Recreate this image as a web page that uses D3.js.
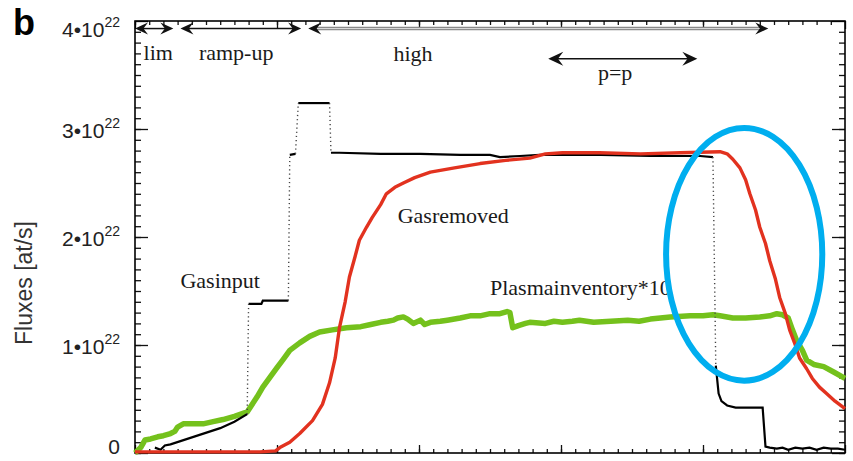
<!DOCTYPE html>
<html>
<head>
<meta charset="utf-8">
<script src="https://cdn.jsdelivr.net/npm/d3@7"></script>
<style>
  body { margin: 0; background: #fff; }
  svg { display: block; }
</style>
</head>
<body>
<div class="svg"></div>
<script>
// time in arbitrary units (0..5), fluxes in units of 1e22 at/s

var gasInputT = [0.14, 0.18, 0.21, 0.25, 0.32, 0.46, 0.60, 0.70, 0.79,
  0.80, 0.89, 0.90, 1.08, 1.09, 1.13, 1.15, 1.37, 1.38, 1.44, 1.73, 2.01,
  2.29, 2.50, 2.57, 2.71, 2.85, 2.99, 3.28, 3.63, 3.98, 4.07, 4.09, 4.10,
  4.11, 4.13, 4.17, 4.23, 4.42, 4.44, 4.47, 4.52, 4.56, 4.60, 4.65, 4.70,
  4.75, 4.80, 4.85, 4.90, 4.95, 5.00];
var gasInputV = [0.05, 0.03, 0.07, 0.08, 0.11, 0.17, 0.23, 0.29, 0.36,
  1.38, 1.38, 1.41, 1.41, 2.76, 2.77, 3.24, 3.24, 2.78, 2.78, 2.77, 2.77,
  2.76, 2.76, 2.74, 2.75, 2.76, 2.76, 2.76, 2.75, 2.75, 2.74, 0.81, 0.68,
  0.55, 0.48, 0.44, 0.42, 0.42, 0.06, 0.05, 0.04, 0.05, 0.03, 0.05, 0.04,
  0.05, 0.03, 0.05, 0.04, 0.04, 0.03];
// segment i -> i+1 is a dotted jump
var gasInputDotted = [8, 12, 14, 16, 30];

var gasRemovedT = [0.00, 0.46, 0.88, 0.99, 1.02, 1.09, 1.16, 1.25, 1.32,
  1.37, 1.41, 1.44, 1.48, 1.51, 1.55, 1.58, 1.63, 1.67, 1.73, 1.77, 1.83,
  1.89, 1.97, 2.08, 2.25, 2.43, 2.61, 2.78, 2.89, 3.01, 3.27, 3.56, 3.84,
  4.12, 4.17, 4.21, 4.26, 4.30, 4.33, 4.37, 4.40, 4.44, 4.47, 4.51, 4.54,
  4.58, 4.61, 4.65, 4.68, 4.73, 4.77, 4.82, 4.87, 4.93, 5.00];
var gasRemovedV = [0.01, 0.01, 0.01, 0.02, 0.05, 0.10, 0.18, 0.30, 0.45,
  0.65, 0.88, 1.16, 1.40, 1.63, 1.82, 1.97, 2.09, 2.18, 2.30, 2.40, 2.46,
  2.50, 2.55, 2.60, 2.64, 2.68, 2.71, 2.73, 2.77, 2.78, 2.78, 2.77, 2.78,
  2.79, 2.77, 2.72, 2.64, 2.53, 2.40, 2.25, 2.09, 1.94, 1.78, 1.61, 1.44,
  1.29, 1.14, 1.00, 0.88, 0.78, 0.69, 0.61, 0.55, 0.48, 0.41];

// plasma inventory, already multiplied by 10
var plasmaT = [0.00, 0.04, 0.07, 0.11, 0.16, 0.20, 0.25, 0.28, 0.30, 0.34,
  0.41, 0.48, 0.55, 0.62, 0.70, 0.79, 0.82, 0.86, 0.90, 0.95, 1.00, 1.04,
  1.09, 1.16, 1.23, 1.30, 1.39, 1.49, 1.59, 1.66, 1.73, 1.78, 1.82, 1.85,
  1.89, 1.92, 1.96, 2.01, 2.04, 2.08, 2.15, 2.20, 2.29, 2.36, 2.43, 2.50,
  2.57, 2.62, 2.64, 2.66, 2.70, 2.75, 2.78, 2.89, 2.95, 3.01, 3.08, 3.13,
  3.23, 3.35, 3.47, 3.55, 3.63, 3.77, 3.91, 4.00, 4.07, 4.12, 4.21, 4.30,
  4.40, 4.47, 4.52, 4.56, 4.60, 4.63, 4.66, 4.70, 4.73, 4.78, 4.85, 4.92,
  5.00];
var plasmaV = [0.00, 0.05, 0.12, 0.13, 0.15, 0.16, 0.18, 0.20, 0.24, 0.27,
  0.27, 0.27, 0.29, 0.31, 0.34, 0.38, 0.44, 0.52, 0.61, 0.70, 0.79, 0.86,
  0.95, 1.02, 1.08, 1.12, 1.14, 1.16, 1.17, 1.19, 1.21, 1.22, 1.23, 1.25,
  1.26, 1.24, 1.20, 1.23, 1.19, 1.21, 1.22, 1.23, 1.25, 1.27, 1.27, 1.29,
  1.29, 1.31, 1.30, 1.16, 1.18, 1.20, 1.21, 1.20, 1.22, 1.21, 1.22, 1.23,
  1.21, 1.22, 1.23, 1.22, 1.24, 1.26, 1.27, 1.27, 1.28, 1.27, 1.25, 1.25,
  1.26, 1.27, 1.29, 1.28, 1.25, 1.14, 1.04, 0.95, 0.86, 0.82, 0.80, 0.75,
  0.69];

var yTickValues = [0, 1, 2, 3, 4];

// phase arrows: [from, to, level], label
var phaseArrows = [[0.00, 0.27, 3.93], [0.32, 1.17, 3.93], [1.22, 4.46, 3.93], [2.91, 3.96, 3.65]];
var phaseLabels = [['lim', 0.06, 3.64], ['ramp-up', 0.45, 3.64], ['high', 1.82, 3.63], ['p=p', 3.26, 3.45]];
var seriesLabels = [['Gasinput', 0.32, 1.53], ['Gasremoved', 1.85, 2.13], ['Plasmainventory*10', 2.50, 1.46]];

// highlighted region (centre and half-axes in data units)
var markCentre = [4.29, 1.84];
var markRadii = [0.55, 1.17];

var W = 853, H = 461;
var x = d3.scaleLinear().domain([0, 5]).range([135, 845]);
var y = d3.scaleLinear().domain([0, 4]).range([453, 21]);

var svg = d3.select('div.svg').append('svg')
  .attr('width', W)
  .attr('height', H);

// ticks on all four sides, pointing inwards
var xMajor = d3.range(0, 6);
var xMinor = d3.range(0, 50).map(function (i) { return i / 10; });
var yMinor = d3.range(0, 40).map(function (i) { return i / 10; });

function ticks(axis, values, size, tx, ty) {
  svg.append('g')
    .attr('transform', 'translate(' + tx + ',' + ty + ')')
    .call(axis.tickValues(values).tickSize(size).tickFormat(''))
    .call(function (g) {
      g.select('.domain').remove();
      g.selectAll('line').attr('stroke', '#111').attr('stroke-width', 1.3);
    });
}
ticks(d3.axisBottom(x), xMinor, -4, 0, 453);
ticks(d3.axisBottom(x), xMajor, -8, 0, 453);
ticks(d3.axisTop(x), xMinor, -4, 0, 21);
ticks(d3.axisTop(x), xMajor, -8, 0, 21);
ticks(d3.axisLeft(y), yMinor, -6, 135, 0);
ticks(d3.axisLeft(y), yTickValues, -13, 135, 0);
ticks(d3.axisRight(y), yMinor, -6, 845, 0);
ticks(d3.axisRight(y), yTickValues, -13, 845, 0);

svg.append('rect')
  .attr('x', x(0)).attr('y', y(4))
  .attr('width', x(5) - x(0)).attr('height', y(0) - y(4))
  .attr('fill', 'none').attr('stroke', '#000').attr('stroke-width', 1.6);

// y tick labels  n•10^22
var yLab = svg.append('g')
  .style('font-family', '"Liberation Sans", Arial, sans-serif')
  .attr('fill', '#222');
yTickValues.forEach(function (v) {
  var t = yLab.append('text')
    .attr('x', 120)
    .attr('y', Math.min(Math.max(y(v) + 9, 37), 454))
    .attr('text-anchor', 'end')
    .style('font-size', '21px');
  if (v === 0) {
    t.text('0');
    return;
  }
  t.append('tspan').text(v + '\u202210');
  t.append('tspan').attr('dy', -10).style('font-size', '14px').text('22');
});

svg.append('text')
  .attr('transform', 'translate(32,283) rotate(-90)')
  .attr('text-anchor', 'middle')
  .style('font-family', '"Liberation Sans", Arial, sans-serif')
  .style('font-size', '23px')
  .attr('fill', '#333')
  .text('Fluxes [at/s]');

svg.append('text')
  .attr('x', 13).attr('y', 35)
  .style('font-family', '"Liberation Sans", Arial, sans-serif')
  .style('font-size', '36px').style('font-weight', 'bold')
  .text('b');

// series
var line = d3.line()
  .x(function (d) { return x(d[0]); })
  .y(function (d) { return y(d[1]); });

var plasma = d3.zip(plasmaT, plasmaV);
var removed = d3.zip(gasRemovedT, gasRemovedV);
var input = d3.zip(gasInputT, gasInputV);

svg.append('path')
  .attr('d', line(plasma))
  .attr('fill', 'none').attr('stroke', '#74c11c')
  .attr('stroke-width', 5.5).attr('stroke-linejoin', 'round');

// gas input: solid runs broken by dotted jumps
var runs = [[]];
input.forEach(function (p, i) {
  runs[runs.length - 1].push(p);
  if (gasInputDotted.indexOf(i) >= 0) runs.push([]);
});
runs.forEach(function (r) {
  svg.append('path')
    .attr('d', line(r))
    .attr('fill', 'none').attr('stroke', '#000')
    .attr('stroke-width', 2.2);
});
gasInputDotted.forEach(function (i) {
  svg.append('line')
    .attr('x1', x(input[i][0])).attr('y1', y(input[i][1]))
    .attr('x2', x(input[i + 1][0])).attr('y2', y(input[i + 1][1]))
    .attr('stroke', '#444').attr('stroke-width', 1.4)
    .attr('stroke-dasharray', '1.2,3');
});

svg.append('path')
  .attr('d', line(removed))
  .attr('fill', 'none').attr('stroke', '#e2321f')
  .attr('stroke-width', 3.4).attr('stroke-linejoin', 'round');

// phase arrows
function head(tx, ty, dir, len, half) {
  return 'M' + tx + ',' + ty +
    'L' + (tx - dir * len) + ',' + (ty - half) +
    'L' + (tx - dir * len * 0.65) + ',' + ty +
    'L' + (tx - dir * len) + ',' + (ty + half) + 'Z';
}
phaseArrows.forEach(function (a, i) {
  var x1 = x(a[0]), x2 = x(a[1]), yy = y(a[2]);
  var top = i < 3;
  var len = top ? 13 : 15, half = top ? 6 : 7;
  if (i === 2) {
    svg.append('line').attr('x1', x1 + 5).attr('x2', x2 - 5).attr('y1', yy).attr('y2', yy)
      .attr('stroke', '#888').attr('stroke-width', 3.5);
    svg.append('line').attr('x1', x1 + 5).attr('x2', x2 - 5).attr('y1', yy).attr('y2', yy)
      .attr('stroke', '#ddd').attr('stroke-width', 1);
  } else {
    svg.append('line').attr('x1', x1 + 5).attr('x2', x2 - 5).attr('y1', yy).attr('y2', yy)
      .attr('stroke', '#111').attr('stroke-width', 1.5);
  }
  svg.append('path').attr('d', head(x1, yy, -1, len, half)).attr('fill', '#111');
  svg.append('path').attr('d', head(x2, yy, 1, len, half)).attr('fill', '#111');
});

var serif = '"Liberation Serif", "Times New Roman", serif';
svg.selectAll('text.note')
  .data(phaseLabels.concat(seriesLabels))
  .enter()
  .append('text')
  .attr('class', 'note')
  .attr('x', function (d) { return x(d[1]); })
  .attr('y', function (d) { return y(d[2]); })
  .style('font-family', serif)
  .style('font-size', '22px')
  .attr('fill', '#1a1a1a')
  .text(function (d) { return d[0]; });

// highlight ellipse
svg.append('ellipse')
  .attr('cx', x(markCentre[0]))
  .attr('cy', y(markCentre[1]))
  .attr('rx', x(markCentre[0] + markRadii[0]) - x(markCentre[0]))
  .attr('ry', y(markCentre[1] - markRadii[1]) - y(markCentre[1]))
  .attr('fill', 'none')
  .attr('stroke', '#00aeef')
  .attr('stroke-width', 6);
</script>
</body>
</html>
